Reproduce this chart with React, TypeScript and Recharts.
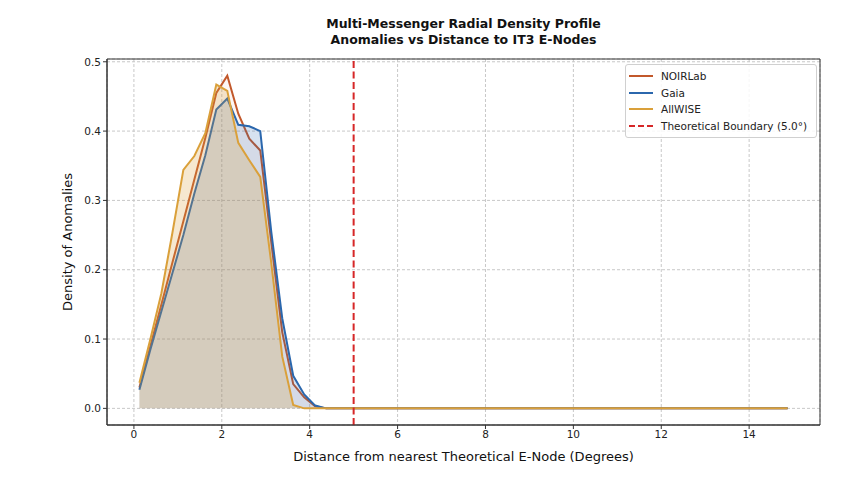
import React from "react";
import {
  ComposedChart,
  Area,
  XAxis,
  YAxis,
  CartesianGrid,
  ReferenceLine,
  ReferenceArea,
  Legend,
} from "recharts";

// bin centres (degrees), 0.25 wide bins from 0 to 15
const distance: number[] = [
  0.125, 0.375, 0.625, 0.875, 1.125, 1.375, 1.625, 1.875, 2.125, 2.375,
  2.625, 2.875, 3.125, 3.375, 3.625, 3.875, 4.125, 4.375, 4.625, 4.875,
  5.125, 5.375, 5.625, 5.875, 6.125, 6.375, 6.625, 6.875, 7.125, 7.375,
  7.625, 7.875, 8.125, 8.375, 8.625, 8.875, 9.125, 9.375, 9.625, 9.875,
  10.125, 10.375, 10.625, 10.875, 11.125, 11.375, 11.625, 11.875, 12.125, 12.375,
  12.625, 12.875, 13.125, 13.375, 13.625, 13.875, 14.125, 14.375, 14.625, 14.875,
];

const noirlab: number[] = [
  0.03, 0.09, 0.15, 0.21, 0.27, 0.33, 0.39, 0.455, 0.48, 0.425,
  0.389, 0.372, 0.24, 0.11, 0.035, 0.016, 0.003, 0, 0, 0,
  0, 0, 0, 0, 0, 0, 0, 0, 0, 0,
  0, 0, 0, 0, 0, 0, 0, 0, 0, 0,
  0, 0, 0, 0, 0, 0, 0, 0, 0, 0,
  0, 0, 0, 0, 0, 0, 0, 0, 0, 0,
];

const gaia: number[] = [
  0.027, 0.085, 0.14, 0.195, 0.25, 0.31, 0.365, 0.431, 0.447, 0.409,
  0.407, 0.4, 0.255, 0.13, 0.047, 0.02, 0.004, 0, 0, 0,
  0, 0, 0, 0, 0, 0, 0, 0, 0, 0,
  0, 0, 0, 0, 0, 0, 0, 0, 0, 0,
  0, 0, 0, 0, 0, 0, 0, 0, 0, 0,
  0, 0, 0, 0, 0, 0, 0, 0, 0, 0,
];

const allwise: number[] = [
  0.037, 0.1, 0.166, 0.253, 0.344, 0.364, 0.397, 0.467, 0.458, 0.383,
  0.358, 0.334, 0.21, 0.075, 0.005, 0, 0, 0, 0, 0,
  0, 0, 0, 0, 0, 0, 0, 0, 0, 0,
  0, 0, 0, 0, 0, 0, 0, 0, 0, 0,
  0, 0, 0, 0, 0, 0, 0, 0, 0, 0,
  0, 0, 0, 0, 0, 0, 0, 0, 0, 0,
];

const xTicks = [0, 2, 4, 6, 8, 10, 12, 14];
const yTicks = [0, 0.1, 0.2, 0.3, 0.4, 0.5];
const boundary = 5.0;

const COLORS = {
  NOIRLab: "#c2582b",
  Gaia: "#2b67ad",
  AllWISE: "#daa03a",
  boundary: "#d62728",
};

const data = distance.map((d, i) => ({
  d,
  NOIRLab: noirlab[i],
  Gaia: gaia[i],
  AllWISE: allwise[i],
}));

const FONT = "'DejaVu Sans', sans-serif";

const legendItems = [
  { label: "NOIRLab", color: COLORS.NOIRLab, dash: undefined },
  { label: "Gaia", color: COLORS.Gaia, dash: undefined },
  { label: "AllWISE", color: COLORS.AllWISE, dash: undefined },
  { label: "Theoretical Boundary (5.0°)", color: COLORS.boundary, dash: "6 3" },
];

const LegendBox = () => (
  <div
    style={{
      border: "1px solid #d0d0d0",
      borderRadius: 3,
      background: "rgba(255,255,255,0.85)",
      padding: "3px 6px 3px 3px",
      fontFamily: FONT,
      fontSize: 10.5,
      color: "#222",
    }}
  >
    {legendItems.map((it) => (
      <div
        key={it.label}
        style={{ display: "flex", alignItems: "center", height: 16.5 }}
      >
        <svg width={24} height={6} style={{ marginRight: 8 }}>
          <line
            x1={0}
            y1={3}
            x2={24}
            y2={3}
            stroke={it.color}
            strokeWidth={2}
            strokeDasharray={it.dash}
          />
        </svg>
        <span>{it.label}</span>
      </div>
    ))}
  </div>
);

export default function App() {
  return (
    <div
      style={{
        position: "absolute",
        left: 0,
        top: 0,
        width: 858,
        height: 488,
        background: "#fff",
        fontFamily: FONT,
      }}
    >
      <div
        style={{
          position: "absolute",
          left: 107,
          width: 713,
          top: 16,
          textAlign: "center",
          fontWeight: "bold",
          fontSize: 12.5,
          lineHeight: "16px",
          color: "#111",
        }}
      >
        Multi-Messenger Radial Density Profile
        <br />
        Anomalies vs Distance to IT3 E-Nodes
      </div>
      <ComposedChart
        width={858}
        height={488}
        data={data}
        margin={{ top: 59, right: 38, bottom: 23, left: 57 }}
      >
        <CartesianGrid stroke="#c8c8c8" strokeDasharray="3 2" />
        <XAxis
          dataKey="d"
          type="number"
          domain={[-0.6125, 15.6125]}
          ticks={xTicks}
          allowDataOverflow
          height={40}
          tickSize={4}
          stroke="#333"
          tick={{ fill: "#222", fontSize: 10.5, fontFamily: FONT }}
          label={{
            value: "Distance from nearest Theoretical E-Node (Degrees)",
            position: "insideBottom",
            offset: 4,
            fill: "#111",
            fontSize: 13,
            fontFamily: FONT,
          }}
        />
        <YAxis
          type="number"
          domain={[-0.024, 0.504]}
          ticks={yTicks}
          allowDataOverflow
          width={50}
          tickSize={4}
          stroke="#333"
          tickFormatter={(v: number) => v.toFixed(1)}
          tick={{ fill: "#222", fontSize: 10.5, fontFamily: FONT }}
          label={{
            value: "Density of Anomalies",
            angle: -90,
            position: "insideLeft",
            offset: 10,
            fill: "#111",
            fontSize: 13,
            fontFamily: FONT,
            style: { textAnchor: "middle" },
          }}
        />
        <Area
          type="linear"
          dataKey="NOIRLab"
          stroke={COLORS.NOIRLab}
          strokeWidth={2}
          fill={COLORS.NOIRLab}
          fillOpacity={0.05}
          baseValue={0}
          dot={false}
          activeDot={false}
          isAnimationActive={false}
        />
        <Area
          type="linear"
          dataKey="Gaia"
          stroke={COLORS.Gaia}
          strokeWidth={2}
          fill={COLORS.Gaia}
          fillOpacity={0.19}
          baseValue={0}
          dot={false}
          activeDot={false}
          isAnimationActive={false}
        />
        <Area
          type="linear"
          dataKey="AllWISE"
          stroke={COLORS.AllWISE}
          strokeWidth={2}
          fill={COLORS.AllWISE}
          fillOpacity={0.24}
          baseValue={0}
          dot={false}
          activeDot={false}
          isAnimationActive={false}
        />
        <ReferenceLine
          x={boundary}
          stroke={COLORS.boundary}
          strokeWidth={2}
          strokeDasharray="7 3.5"
        />
        <ReferenceArea
          x1={-0.6125}
          x2={15.6125}
          y1={-0.024}
          y2={0.504}
          fill="none"
          stroke="#333"
          strokeWidth={1}
          ifOverflow="visible"
        />
        <Legend
          layout="vertical"
          align="center"
          verticalAlign="middle"
          content={() => <LegendBox />}
          wrapperStyle={{ left: 625, top: 64, width: 192, height: "auto" }}
        />
      </ComposedChart>
    </div>
  );
}
